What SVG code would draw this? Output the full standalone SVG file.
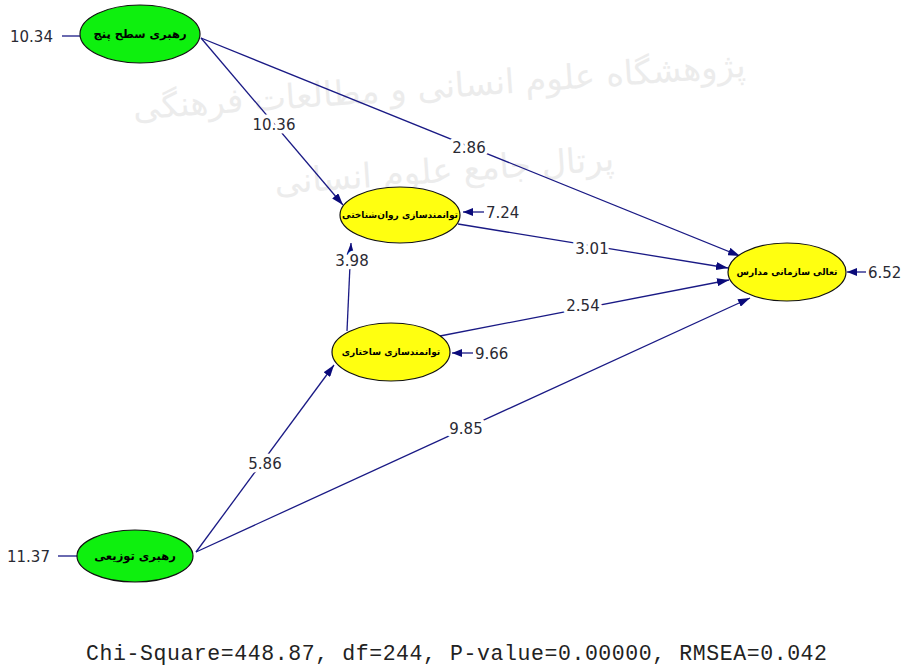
<svg xmlns="http://www.w3.org/2000/svg" width="909" height="668" viewBox="0 0 909 668">
<defs>
<marker id="ah" viewBox="0 0 12 8" refX="12" refY="4" markerWidth="12" markerHeight="8" markerUnits="userSpaceOnUse" orient="auto">
<path d="M0,0 L12,4 L0,8 Z" fill="#0a0a7a"/>
</marker>
<marker id="eh" viewBox="0 0 10 8" refX="10" refY="4" markerWidth="10" markerHeight="8" markerUnits="userSpaceOnUse" orient="auto">
<path d="M0,0 L10,4 L0,8 Z" fill="#0a0a7a"/>
</marker>
<style>
.wm{font-family:"DejaVu Sans",sans-serif;fill:#ececec;font-size:34px}
.conn line{stroke:#1a1a85;stroke-width:1.3;fill:none}
.arr{marker-end:url(#ah)}
.err{marker-end:url(#eh);stroke-width:2.5px}
.num{font-family:"DejaVu Sans",sans-serif;font-size:15px;fill:#2a2a33;paint-order:stroke;stroke:#fff;stroke-width:7px;stroke-linejoin:round}
.ev{font-family:"DejaVu Sans",sans-serif;font-size:15px;fill:#2a2a33}
.lat{fill:#0ef00e;stroke:#111;stroke-width:1.2}
.end{fill:#ffff10;stroke:#111;stroke-width:1.2}
.lbl{font-family:"DejaVu Sans",sans-serif;font-weight:bold;font-size:9px;fill:#000;text-anchor:middle;dominant-baseline:central}
.big{font-size:11.5px}
.fit{font-family:"Liberation Mono",monospace;font-size:21.5px;fill:#222}
</style>
</defs>
<rect width="909" height="668" fill="#fff"/>
<g id="watermark">
<text class="wm" x="440" y="98" text-anchor="middle" direction="rtl" transform="rotate(-4 440 98)">پژوهشگاه علوم انسانی و مطالعات فرهنگی</text>
<text class="wm" x="445" y="182" text-anchor="middle" direction="rtl" transform="rotate(-4 445 182)">پرتال جامع علوم انسانی</text>
</g>
<g id="connectors" class="conn">
<line x1="62" y1="36" x2="80" y2="36"/>
<line x1="58" y1="556" x2="77" y2="556"/>
<line class="arr" x1="201" y1="38" x2="343" y2="205"/>
<line class="arr" x1="201" y1="38" x2="740" y2="256"/>
<line class="arr" x1="458" y1="224" x2="728" y2="268"/>
<line class="arr" x1="347" y1="331" x2="351" y2="243"/>
<line class="arr" x1="440" y1="336" x2="729" y2="280"/>
<line class="arr" x1="196" y1="552" x2="334" y2="365"/>
<line class="arr" x1="196" y1="552" x2="750" y2="298"/>
<line class="err" x1="484" y1="212" x2="463" y2="212"/>
<line class="err" x1="473" y1="353" x2="452" y2="353"/>
<line class="err" x1="866" y1="272" x2="847" y2="272"/>
</g>
<g id="path-labels">
<text class="num" x="274" y="130" text-anchor="middle">10.36</text>
<text class="num" x="469" y="153" text-anchor="middle">2.86</text>
<text class="num" x="592" y="254" text-anchor="middle">3.01</text>
<text class="num" x="352" y="266" text-anchor="middle">3.98</text>
<text class="num" x="583" y="311" text-anchor="middle">2.54</text>
<text class="num" x="265" y="469" text-anchor="middle">5.86</text>
<text class="num" x="466" y="434" text-anchor="middle">9.85</text>
<text class="ev" x="10" y="42">10.34</text>
<text class="ev" x="7" y="562">11.37</text>
<text class="ev" x="486" y="218">7.24</text>
<text class="ev" x="475" y="359">9.66</text>
<text class="ev" x="868" y="278">6.52</text>
</g>
<g id="node-leader5">
<ellipse class="lat" cx="140" cy="34" rx="60" ry="29"/>
<text class="lbl big" x="140" y="34" direction="rtl">رهبری سطح پنج</text>
</g>
<g id="node-psych">
<ellipse class="end" cx="400" cy="215" rx="60" ry="28"/>
<text class="lbl" x="400" y="215" direction="rtl">توانمندسازی روان‌شناختی</text>
</g>
<g id="node-struct">
<ellipse class="end" cx="391" cy="352" rx="59" ry="29"/>
<text class="lbl" x="391" y="352" direction="rtl">توانمندسازی ساختاری</text>
</g>
<g id="node-excellence">
<ellipse class="end" cx="787" cy="272" rx="59" ry="29"/>
<text class="lbl" x="787" y="272" direction="rtl">تعالی سازمانی مدارس</text>
</g>
<g id="node-distrib">
<ellipse class="lat" cx="135" cy="556" rx="58" ry="26"/>
<text class="lbl big" x="135" y="556" direction="rtl">رهبری توزیعی</text>
</g>
<text class="fit" x="86" y="660" textLength="741" lengthAdjust="spacing">Chi-Square=448.87, df=244, P-value=0.00000, RMSEA=0.042</text>
</svg>
